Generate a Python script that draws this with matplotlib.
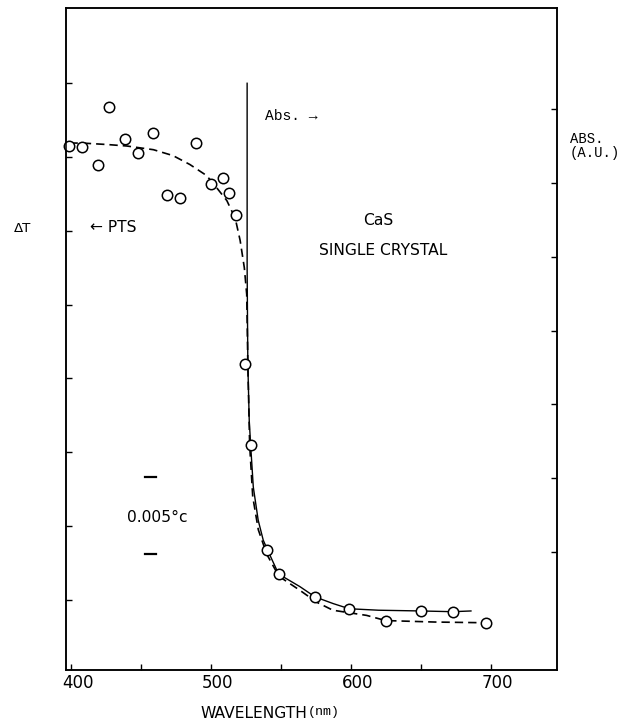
import matplotlib
matplotlib.use("Agg")
import matplotlib.pyplot as plt
import matplotlib.transforms as mtransforms
from matplotlib import font_manager

# ------------------------------------------------------------
# Data
# ------------------------------------------------------------

# measured PTS points (open circles)
pts_wl = [399, 408, 419.5, 427.5, 439, 448, 459, 469, 478, 489.5,
          500, 509, 513, 518, 524.5, 528.5, 540.5, 548.5, 574.5,
          599, 625, 650, 673, 696.5]
pts_dt = [7.15, 7.13, 6.89, 7.68, 7.24, 7.05, 7.33, 6.48, 6.44, 7.19,
          6.64, 6.72, 6.51, 6.22, 4.19, 3.10, 1.68, 1.35, 1.04,
          0.88, 0.72, 0.85, 0.83, 0.69]

# dashed curve through the PTS data
fit_wl = [399, 408, 426, 440, 459, 473, 485, 497, 504, 511.5, 517.5,
          521, 524, 525.7, 526.5, 527.8, 530, 534, 540, 548.7, 563.7,
          575.6, 587.3, 611.4, 625, 660, 696.5]
fit_dt = [7.19, 7.19, 7.17, 7.15, 7.10, 7.02, 6.90, 6.75, 6.59, 6.41,
          6.17, 5.87, 5.50, 5.14, 4.2, 3.1, 2.4, 1.95, 1.62, 1.32, 1.13,
          0.97, 0.86, 0.79, 0.72, 0.70, 0.69]

# solid absorption curve
abs_wl = [526, 526, 526.5, 527.5, 528.5, 530.4, 533.9, 537.5, 540.5,
          548.5, 563.7, 574.6, 587.5, 599, 620, 650, 673, 686]
abs_val = [8.0, 5.5, 4.2, 3.43, 3.10, 2.53, 2.08, 1.81, 1.68,
           1.35, 1.18, 1.04, 0.95, 0.88, 0.86, 0.85, 0.84, 0.85]

x_major = [400, 500, 600, 700]
x_minor = [450, 550, 650]
y_left_ticks = [1, 2, 3, 4, 5, 6, 7, 8]
y_right_ticks = [1.65, 2.65, 3.65, 4.65, 5.65, 6.65, 7.65]


# ------------------------------------------------------------
# Fonts
# ------------------------------------------------------------

def pick_font(name, fallback="DejaVu Sans"):
    names = {f.name for f in font_manager.fontManager.ttflist}
    return name if name in names else fallback


NARROW = pick_font("Liberation Sans Narrow")
MONO = pick_font("Liberation Mono", "DejaVu Sans Mono")
k = 1.0 if NARROW == "Liberation Sans Narrow" else 0.8


# ------------------------------------------------------------
# Figure
# ------------------------------------------------------------

fig = plt.figure(figsize=(6.32, 7.27), dpi=100)
ax = fig.add_axes([0.1044, 0.0784, 0.7769, 0.9106])

ax.plot(fit_wl, fit_dt, color="black", linestyle=(0, (5, 3)),
        linewidth=1.2, zorder=2)
ax.plot(abs_wl, abs_val, color="black", linewidth=1.0, zorder=2)
ax.plot(pts_wl, pts_dt, linestyle="none", marker="o", markersize=7.5,
        markerfacecolor="white", markeredgecolor="black",
        markeredgewidth=1.1, zorder=3, clip_on=False)

ax.set_xlim(396.5, 747.5)
ax.set_ylim(0.05, 9.02)

ax.set_xticks(x_major)
ax.set_xticks(x_minor, minor=True)
ax.set_yticks(y_left_ticks)
ax.set_yticklabels([])
ax.tick_params(axis="x", which="both", direction="in", length=4,
               width=1.0, labelsize=15 * k, pad=3)
ax.tick_params(axis="y", which="both", direction="in", length=4,
               width=1.0, right=False)
for lab in ax.get_xticklabels():
    lab.set_fontfamily(NARROW)
    lab.set_transform(lab.get_transform() + mtransforms.ScaledTranslation(
        0.07, 0, fig.dpi_scale_trans))

ax2 = ax.twinx()
ax2.set_ylim(ax.get_ylim())
ax2.set_yticks(y_right_ticks)
ax2.set_yticklabels([])
ax2.tick_params(axis="y", direction="in", length=4, width=1.0)

for a in (ax, ax2):
    for s in a.spines.values():
        s.set_linewidth(1.1)

# annotations inside the axes
ax.text(413.8, 6.05, "\u2190 PTS", fontsize=14 * k, family=NARROW,
        ha="left", va="center")
ax.text(538.7, 7.55, "Abs. \u2192", fontsize=10.5, family=MONO,
        ha="left", va="center")
ax.text(620, 6.14, "CaS", fontsize=14 * k, family=NARROW,
        ha="center", va="center")
ax.text(623, 5.74, "SINGLE CRYSTAL", fontsize=14 * k, family=NARROW,
        ha="center", va="center")

# temperature scale bar
ax.plot([453, 461.2], [2.67, 2.67], color="black", linewidth=1.6)
ax.plot([453, 461.2], [1.62, 1.62], color="black", linewidth=1.6)
ax.text(440, 2.12, "0.005\u00b0c", fontsize=14 * k, family=NARROW,
        ha="left", va="center")

# labels outside the axes
fig.text(0.036, 0.686, "\u0394T", fontsize=12 * k, family=NARROW,
         ha="center", va="center")
fig.text(0.902, 0.818, "ABS.\n(A.U.)", fontsize=10, family=MONO,
         ha="left", va="top", linespacing=0.95)
fig.text(0.3165, 0.018, "WAVELENGTH", fontsize=14 * k, family=NARROW,
         ha="left", va="center")
fig.text(0.487, 0.020, "(nm)", fontsize=9.5, family=MONO,
         ha="left", va="center")

fig.savefig("out.png", dpi=100)
